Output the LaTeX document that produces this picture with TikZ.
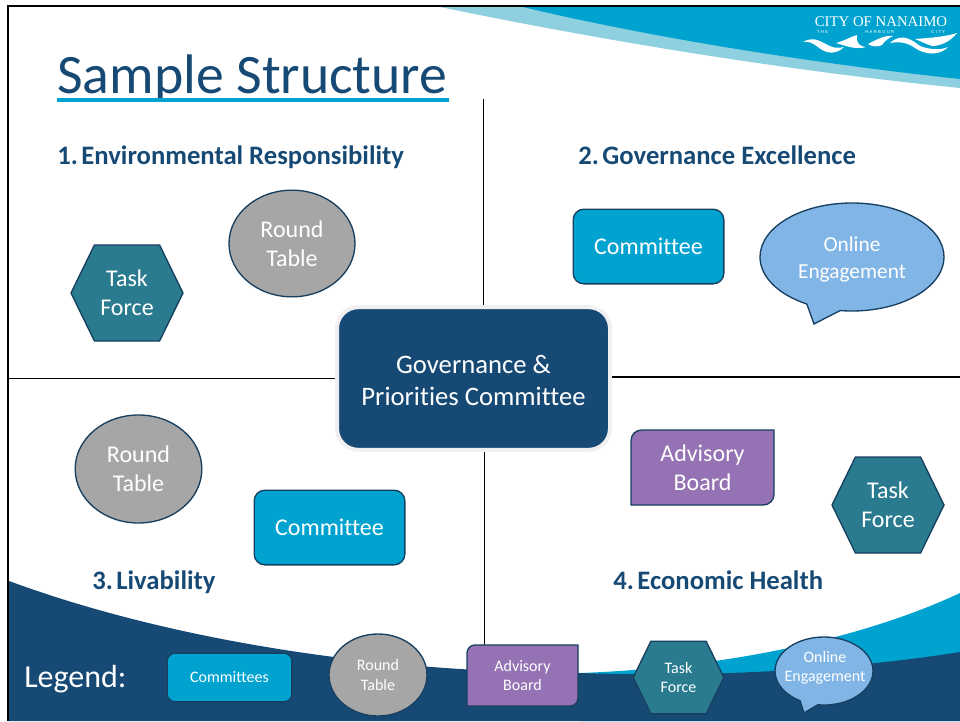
\documentclass[tikz,border=0pt]{standalone}
\usepackage{fontspec}
\usepackage{tikz}
\usetikzlibrary{positioning, shapes.geometric, shapes.symbols, shapes.callouts}
\setmainfont[Ligatures=CommonOff]{Carlito}
\newfontfamily\logofont{Liberation Serif}
\newfontfamily\logotiny[LetterSpace=30]{Liberation Sans}

\definecolor{navy}{HTML}{164A75}
\definecolor{edgeblue}{HTML}{173F60}
\definecolor{cyanblue}{HTML}{00A3D0}
\definecolor{paleblue}{HTML}{8ECFE0}
\definecolor{tealhex}{HTML}{2A7B8F}
\definecolor{purplebd}{HTML}{9472B3}
\definecolor{greyrt}{HTML}{A6A6A6}
\definecolor{skybub}{HTML}{80B5E6}
\definecolor{halo}{HTML}{F0F0F2}

\tikzset{
	shapetext/.style={text=white, align=center, inner sep=0pt, font=\fontsize{18}{21.75}\selectfont},
	smalltext/.style={font=\fontsize{12}{14.4}\selectfont},
	cmtbox/.style={shapetext, rectangle, rounded corners=8pt, draw=edgeblue, fill=cyanblue, line width=1pt},
	rtable/.style={shapetext, ellipse, draw=edgeblue, fill=greyrt, line width=1pt},
	taskhex/.style={shapetext, signal, signal to=east and west, signal pointer angle=128, draw=edgeblue, fill=tealhex, line width=1pt},
	onlinebub/.style={ellipse callout, callout pointer arc=22, inner sep=0pt, draw=edgeblue, fill=skybub, line width=1pt},
	advfill/.style={draw=edgeblue, fill=purplebd, line width=1pt},
	heading/.style={anchor=base west, inner sep=0pt, text=navy, font=\fontsize{20}{24}\selectfont\bfseries},
	divider/.style={black, line width=1.4pt}
}

\newcommand{\numgap}{\kern-1.9pt\ }
\newcommand{\advboard}[6]{
	\coordinate (#1c) at (#2);
	\draw[advfill] ([xshift=-#3*.375pt, yshift=0pt]#1c) [rounded corners=#5] -- ([xshift=-#3*.375pt, yshift=#4*.375pt]#1c)
		[sharp corners] -- ([xshift=#3*.375pt, yshift=#4*.375pt]#1c)
		[rounded corners=#5] -- ([xshift=#3*.375pt, yshift=-#4*.375pt]#1c)
		[sharp corners] -- ([xshift=-#3*.375pt, yshift=-#4*.375pt]#1c) -- cycle;
	\node[shapetext, #6] (#1) at (#1c)
}

\begin{document}
\begin{tikzpicture}[x=.75pt, y=-.75pt]
	\useasboundingbox (0,0) rectangle (960,721);

	% swooshes
	\fill[paleblue] (440,7) .. controls (600,40) and (780,70) .. (960,88) -- (960,7) -- cycle;
	\fill[cyanblue] (523,7) .. controls (640,35) and (800,62) .. (960,79) -- (960,7) -- cycle;
	\fill[cyanblue] (580,673) .. controls (720,668) and (860,640) .. (960,593) -- (960,721) -- (580,721) -- cycle;
	\fill[navy] (9,581) .. controls (150,633) and (350,672) .. (580,673) .. controls (720,678) and (860,668) .. (960,652) -- (960,721) -- (9,721) -- cycle;

	% logo
	\node[inner sep=0pt, text=white, font=\fontsize{11.1}{12}\logofont] (logoname) at (881,22) {CITY OF NANAIMO};
	\node[inner sep=0pt, text=white, font=\fontsize{3.2}{4}\logotiny] (logotag) at (881,32) {\makebox[96pt]{THE\hfill HARBOUR\hfill CITY}};
	\fill[white] (803,42) .. controls (815,35) and (822,43) .. (832,47) .. controls (836,48) and (840,48) .. (844,47) .. controls (836,55) and (826,54) .. (818,47) .. controls (813,43) and (808,41) .. cycle;
	\fill[white] (836,43) .. controls (844,41) and (850,37) .. (857,35) .. controls (856,42) and (858,46) .. (866,47) .. controls (856,50) and (846,46) .. cycle;
	\fill[white] (868,44) .. controls (876,40) and (884,35) .. (893,36) .. controls (888,38) and (884,42) .. (882,45) .. controls (878,47) and (872,47) .. cycle;
	\fill[white] (890,43) .. controls (902,32) and (912,40) .. (920,46) .. controls (930,50) and (942,50) .. (948,47) .. controls (940,56) and (925,55) .. (915,48) .. controls (908,43) and (900,41) .. cycle;
	\fill[white] (915,39) .. controls (928,38) and (945,37) .. (957,33) .. controls (950,42) and (940,46) .. (932,46) .. controls (926,44) and (920,41) .. cycle;

	% frame and title
	\draw[black, line width=1.7pt] (8,721) -- (8,6) -- (960,6);
	\node[anchor=base west, inner sep=0pt, text=navy, font=\fontsize{41.8}{48}\selectfont] (title) at (57,93) {Sample Structure};
	\fill[cyanblue] (57,98) rectangle (449,102);

	% centre
	\node[shapetext, rectangle, rounded corners=16pt, draw=halo, line width=3pt, fill=navy, minimum width=204.75pt, minimum height=107pt, font=\fontsize{20}{24}\selectfont] (gov) at (473.5,378.5) {\rule{0pt}{17pt}Governance \&\\Priorities Committee};

	\coordinate (topend) at (483.5,99);
	\coordinate (botend) at (484.5,650);
	\coordinate (leftend) at (9,378.5);
	\coordinate (rightend) at (960,377);
	\path[divider]
		(topend) edge (topend |- gov.north)
		(botend) edge (botend |- gov.south)
		(leftend) edge (leftend -| gov.west)
		(rightend) edge (rightend -| gov.east);

	% headings
	\node[heading] (head1) at (57,164) {1.\numgap Environmental Responsibility};
	\node[heading] (head2) at (578,164) {2.\numgap Governance Excellence};
	\node[heading] (head3) at (92,589) {3.\numgap Livability};
	\node[heading] (head4) at (613,589) {4.\numgap Economic Health};

	% quadrants
	\node[rtable, minimum width=94.5pt, minimum height=80pt] (rt1) at (292,243.5) {Round\\Table};
	\node[taskhex, minimum width=84pt, minimum height=72pt] (tf1) at (127,293) {Task\\Force};
	\node[cmtbox, minimum width=113pt, minimum height=56pt] (cm2) at (648.5,246.5) {Committee};
	\node[onlinebub, minimum width=138pt, minimum height=81pt, callout absolute pointer={(814,324)}] (ol2) at (852,257) {};
	\node[shapetext, font=\fontsize{16}{20.25}\selectfont] (ol2text) at (852,259.5) {Online\\Engagement};
	\node[rtable, minimum width=95pt, minimum height=81pt] (rt3) at (138.5,469) {Round\\Table};
	\node[cmtbox, minimum width=113pt, minimum height=56pt] (cm3) at (329.5,527.5) {Committee};
	\advboard{adv4}{702.5,467.5}{143}{75}{8pt}{}{Advisory\\Board};
	\node[taskhex, minimum width=84pt, minimum height=72pt] (tf4) at (888,505) {Task\\Force};

	% legend
	\node[anchor=base west, inner sep=0pt, text=white, font=\fontsize{24}{28}\selectfont] (legend) at (24,687) {Legend:};
	\node[cmtbox, smalltext, rounded corners=6pt, minimum width=93.5pt, minimum height=36.5pt] (lgcm) at (229.5,677.5) {Committees};
	\node[rtable, smalltext, minimum width=73.5pt, minimum height=61.5pt] (lgrt) at (378,675) {Round\\Table};
	\advboard{lgadv}{522.5,675.5}{111}{61}{6pt}{smalltext}{Advisory\\Board};
	\node[taskhex, smalltext, minimum width=68pt, minimum height=54.5pt] (lgtf) at (678.5,677.5) {Task\\Force};
	\node[onlinebub, minimum width=73.5pt, minimum height=51pt, callout absolute pointer={(804,713)}] (lgol) at (824,671) {};
	\node[shapetext, smalltext] (lgoltext) at (825,668) {Online\\Engagement};
\end{tikzpicture}
\end{document}
